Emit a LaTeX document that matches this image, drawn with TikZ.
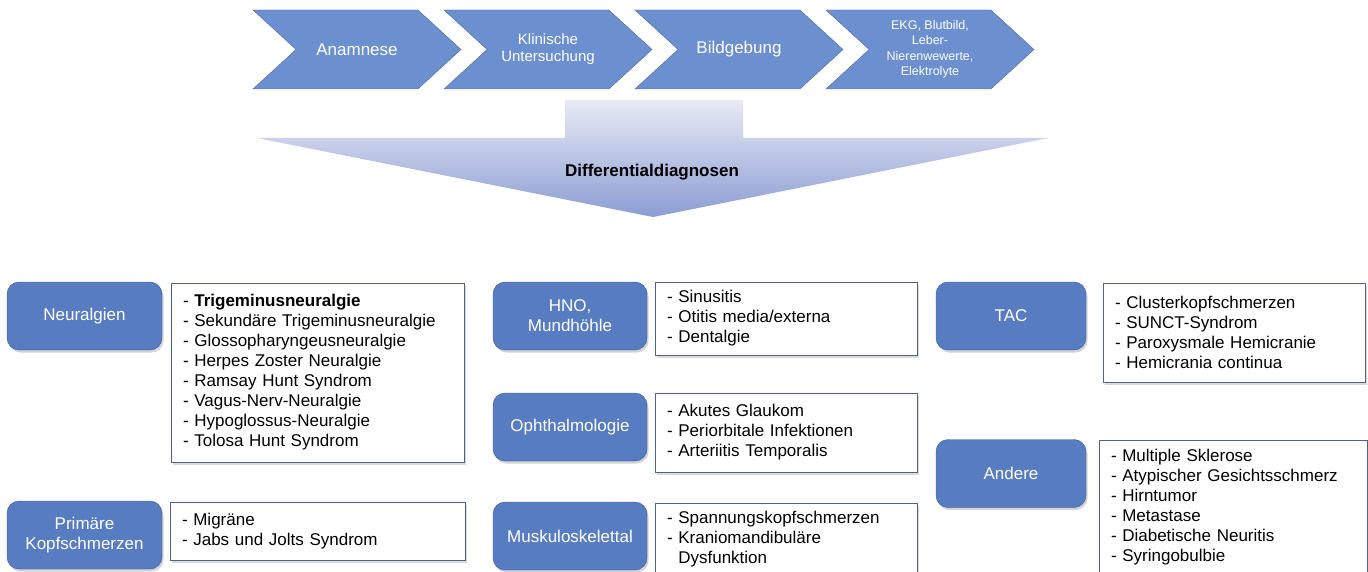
\documentclass[tikz,border=0pt]{standalone}
\usepackage{fontspec}
\setmainfont{Liberation Sans}
\usepackage{xcolor}
\usetikzlibrary{shapes.symbols}
\usetikzlibrary{shadows}
\definecolor{chevblue}{RGB}{108,143,208}
\definecolor{chevline}{RGB}{72,104,165}
\definecolor{catblue}{RGB}{88,124,194}
\definecolor{catline}{RGB}{62,92,152}
\definecolor{lstline}{RGB}{78,98,140}
\definecolor{arrtop}{RGB}{232,234,244}
\definecolor{arrbot}{RGB}{140,157,212}

\begin{document}
\begin{tikzpicture}
[x=1pt,y=-1pt,
chev/.style={signal,signal to=east,signal from=west,signal pointer angle=85,draw=chevline,fill=chevblue,text=white,align=center,minimum width=208pt,minimum height=79pt,inner sep=0pt},
cat/.style={rectangle,rounded corners=12pt,draw=catline,fill=catblue,text=white,align=center,minimum height=68pt,inner sep=2pt,font=\fontsize{17}{20}\selectfont,drop shadow={shadow xshift=1.5pt,shadow yshift=-2.5pt,opacity=.35}},
lst/.style={rectangle,draw=lstline,fill=white,align=left,inner xsep=12pt,inner ysep=0pt,font=\fontsize{17}{20}\selectfont,drop shadow={shadow xshift=2pt,shadow yshift=-2.5pt,opacity=.3}}]

\useasboundingbox (0,0) rectangle (1368,572);

\node at (357,49.5) [chev,font=\fontsize{17}{20}\selectfont] (anam) {Anamnese};
\node at (548,49.5) [chev,font=\fontsize{15}{17}\selectfont] (klin) {Klinische\\Untersuchung};
\node at (739,49.5) [chev,font=\fontsize{17}{20}\selectfont] (bild) {Bildgebung};
\node at (930,49.5) [chev,font=\fontsize{12.5}{15.5}\selectfont] (labr) {EKG, Blutbild,\\Leber-\\Nierenwewerte,\\Elektrolyte};

\shade [top color=arrtop,bottom color=arrbot] (565,100) -- (743,100) -- (743,138) -- (1048,138) -- (653,217) -- (257,138) -- (565,138) -- cycle;
\node at (652,172) [font=\bfseries\fontsize{17}{20}\selectfont] (diff) {Differentialdiagnosen};

\node at (84.5,316) [cat,minimum width=155pt] (neur) {Neuralgien};
\node at (84.5,535) [cat,minimum width=155pt] (prim) {Primäre\\Kopfschmerzen};
\node at (570,316)  [cat,minimum width=154pt] (hno)  {HNO,\\Mundhöhle};
\node at (570,427)  [cat,minimum width=154pt] (opht) {Ophthalmologie};
\node at (570,536)  [cat,minimum width=154pt] (musk) {Muskuloskelettal};
\node at (1011,316) [cat,minimum width=150pt] (tac)  {TAC};
\node at (1011,473.5) [cat,minimum width=150pt] (andr) {Andere};

\node at (317.5,372.5) [lst,text width=269pt,minimum height=179pt] (neurlst) {- \textbf{Trigeminusneuralgie}\\- Sekundäre Trigeminusneuralgie\\- Glossopharyngeusneuralgie\\- Herpes Zoster Neuralgie\\- Ramsay Hunt Syndrom\\- Vagus-Nerv-Neuralgie\\- Hypoglossus-Neuralgie\\- Tolosa Hunt Syndrom};
\node at (317.5,531) [lst,text width=271pt,minimum height=58pt] (primlst) {- Migräne\\- Jabs und Jolts Syndrom};
\node at (786,318.5) [lst,text width=238pt,minimum height=73pt] (hnolst) {- Sinusitis\\- Otitis media/externa\\- Dentalgie};
\node at (786,432.5) [lst,text width=238pt,minimum height=79pt] (ophtlst) {- Akutes Glaukom\\- Periorbitale Infektionen\\- Arteriitis Temporalis};
\node at (786,539) [lst,text width=238pt,minimum height=72pt] (musklst) {- Spannungskopfschmerzen\\- Kraniomandibuläre\\\hphantom{- }Dysfunktion};
\node at (1234,332.5) [lst,text width=238pt,minimum height=99pt] (taclst) {- Clusterkopfschmerzen\\- SUNCT-Syndrom\\- Paroxysmale Hemicranie\\- Hemicrania continua};
\node at (1233,507) [lst,text width=244pt,minimum height=134pt] (andrlst) {- Multiple Sklerose\\- Atypischer Gesichtsschmerz\\- Hirntumor\\- Metastase\\- Diabetische Neuritis\\- Syringobulbie};
\end{tikzpicture}
\end{document}
